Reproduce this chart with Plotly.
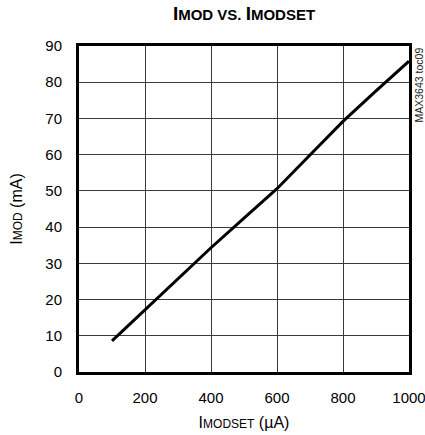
import plotly.graph_objects as go

imodset_ua = [100, 200, 300, 400, 500, 600, 700, 800, 900, 1000]
imod_ma = [8.6, 17.2, 25.8, 34.3, 42.5, 50.6, 59.9, 69.2, 77.6, 85.8]

x_ticks = [0, 200, 400, 600, 800, 1000]
y_ticks = [0, 10, 20, 30, 40, 50, 60, 70, 80, 90]

FONT = "Liberation Sans, Arial, sans-serif"

fig = go.Figure()
fig.add_trace(go.Scatter(x=imodset_ua, y=imod_ma, mode="lines",
                         line=dict(color="black", width=3), showlegend=False))

axis_common = dict(showgrid=True, gridcolor="#3a3a3a", gridwidth=1,
                   showline=True, linecolor="black", linewidth=3, mirror=True,
                   zeroline=False, ticks="", automargin=False,
                   ticklabeloverflow="allow",
                   tickfont=dict(family=FONT, size=15, color="black"))

fig.update_xaxes(range=[0, 1000], tickvals=x_ticks, ticktext=[str(v) for v in x_ticks],
                 ticklabelstandoff=10, **axis_common,
                 title=dict(text="I<span style='font-size:12px'>MODSET</span> (µA)",
                            font=dict(family=FONT, size=16, color="black"), standoff=12))
fig.update_yaxes(range=[0, 90], tickvals=y_ticks, ticktext=[str(v) for v in y_ticks],
                 ticklabelstandoff=11, **axis_common,
                 title=dict(text="I<span style='font-size:12px'>MOD</span> (mA)",
                            font=dict(family=FONT, size=16, color="black"), standoff=19))

fig.update_layout(
    width=425, height=435,
    margin=dict(l=79, r=16, t=46, b=63),
    paper_bgcolor="white", plot_bgcolor="white",
    title=dict(text="<b>I<span style='font-size:15px'>MOD VS. </span>I<span style='font-size:15px'>MODSET</span></b>",
               xref="paper", x=0.5, xanchor="center",
               yref="container", y=0.985, yanchor="top",
               font=dict(family=FONT, size=19, color="black")),
)

fig.add_annotation(text="MAX3643 toc09", xref="paper", yref="paper",
                   x=1.0, y=1.0, xanchor="center", yanchor="top", xshift=9,
                   textangle=-90, showarrow=False,
                   font=dict(family=FONT, size=10.5, color="#222"))

fig.write_html("out.html", config={"displayModeBar": False},
               post_script="document.body.style.margin='0';document.body.style.overflow='hidden';")
